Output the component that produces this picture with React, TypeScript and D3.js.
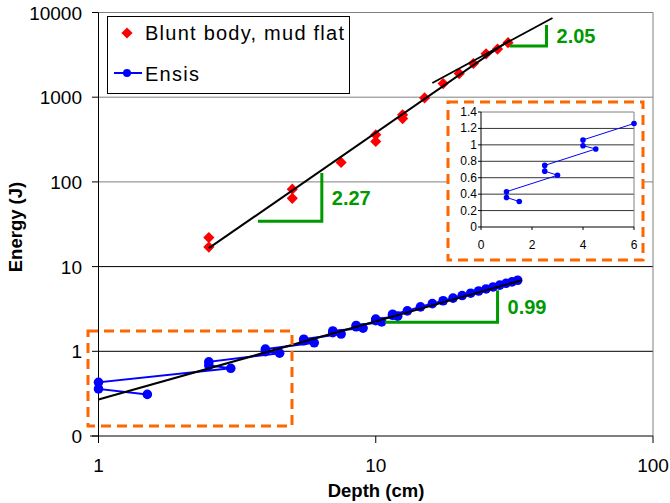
import * as d3 from "d3";

type Pt = [number, number];

// Blunt body, mud flat: depth (cm), energy (J)
const bluntBody: Pt[] = [
  [2.5, 22], [2.5, 17], [5, 82], [5, 64], [7.5, 170], [10, 360], [10, 300],
  [12.5, 620], [12.5, 560], [15, 980], [17.5, 1450], [20, 1900], [22.5, 2500],
  [25, 3250], [27.5, 3700], [30, 4400],
];

// Ensis: depth (cm), energy (J)
const ensis: Pt[] = [
  [1.5, 0.31], [1, 0.36], [1, 0.43],
  [3, 0.63], [2.5, 0.68], [2.5, 0.75],
  [4.5, 0.95], [4, 0.99], [4, 1.06],
  [6, 1.26], [5.5, 1.33], [5.5, 1.39],
  [7.5, 1.6], [7, 1.66], [7, 1.74],
  [9, 1.88], [8.5, 1.95], [8.5, 2.02],
  [10.5, 2.22], [10, 2.3], [10, 2.4],
  [12, 2.6], [11.5, 2.66], [11.5, 2.74],
  [13, 3.0], [14.5, 3.35], [16, 3.65], [17.5, 3.95], [19, 4.25], [20.5, 4.55],
  [22, 4.85], [23.5, 5.15], [25, 5.45], [26.5, 5.75], [28, 6.05], [29.5, 6.35],
  [31, 6.6], [32.5, 6.9],
];

// the inset only shows the first ten Ensis points on linear axes
const ensisInset: Pt[] = ensis.slice(0, 10);

// power-law fits
const bluntFit: Pt[] = [[2.5, 16.5], [30.4, 4740]];
const bluntFitUpper: Pt[] = [[16, 1470], [43.4, 8630]];
const ensisFit: Pt[] = [[1, 0.27], [33.6, 6.9]];

// slope triangles
const slopeMarks: { x0: number; x1: number; yBase: number; yTop: number; label: string }[] = [
  { x0: 3.76, x1: 6.39, yBase: 34.4, yTop: 127, label: "2.27" },
  { x0: 30.4, x1: 41.3, yBase: 4030, yTop: 7130, label: "2.05" },
  { x0: 10.8, x1: 27.5, yBase: 2.2, yTop: 5.26, label: "0.99" },
];

const yTicks = [0.1, 1, 10, 100, 1000, 10000];
const yTickLabels = ["0", "1", "10", "100", "1000", "10000"];
const xTicks = [1, 10, 100];
const insetYTicks = [0, 0.2, 0.4, 0.6, 0.8, 1, 1.2, 1.4];
const insetXTicks = [0, 2, 4, 6];

const FONT = "'Liberation Sans', Arial, sans-serif";
const GREEN = "#009900";
const ORANGE = "#FF6600";

export default function App() {
  const x = d3.scaleLog().domain([1, 100]).range([98.5, 653]);
  const y = d3.scaleLog().domain([0.1, 10000]).range([436, 12.5]);

  const xi = d3.scaleLinear().domain([0, 6]).range([481, 634]);
  const yi = d3.scaleLinear().domain([0, 1.4]).range([227, 112]);

  const line = d3.line<Pt>().x((d) => x(d[0])).y((d) => y(d[1]));
  const lineInset = d3.line<Pt>().x((d) => xi(d[0])).y((d) => yi(d[1]));
  const diamond = d3.symbol().type(d3.symbolDiamond2).size(80)()!;

  return (
    <div style={{ position: "absolute", left: 0, top: 0 }}>
      <svg width={670} height={503} style={{ display: "block", fontFamily: FONT }}>
        <rect width={670} height={503} fill="#fff" />

        {/* gridlines */}
        {yTicks.slice(1, 5).map((t) => (
          <line key={t} x1={98.5} x2={653} y1={y(t)} y2={y(t)} stroke={t >= 100 ? "#808080" : "#000"} strokeWidth={1} />
        ))}
        {/* plot frame */}
        <line x1={98.5} x2={653} y1={y(10000)} y2={y(10000)} stroke="#808080" />
        <line x1={653} x2={653} y1={y(10000)} y2={y(0.1)} stroke="#808080" />
        <line x1={90} x2={653} y1={y(0.1)} y2={y(0.1)} stroke="#555" strokeWidth={1.5} />
        <line x1={98.5} x2={98.5} y1={y(10000)} y2={y(0.1)} stroke="#000" />

        {/* y ticks */}
        {yTicks.map((t, i) => (
          <g key={t}>
            <line x1={92} x2={98.5} y1={y(t)} y2={y(t)} stroke="#000" />
            <text x={82} y={y(t) + 7} fontSize={19} textAnchor="end" fill="#000">
              {yTickLabels[i]}
            </text>
          </g>
        ))}
        {/* x ticks */}
        {xTicks.map((t) => (
          <g key={t}>
            <line x1={x(t)} x2={x(t)} y1={436} y2={443} stroke="#000" />
            <text x={x(t)} y={472} fontSize={19} textAnchor="middle" fill="#000">
              {t}
            </text>
          </g>
        ))}

        {/* axis titles */}
        <text x={376} y={497} fontSize={18.5} fontWeight="bold" textAnchor="middle">
          Depth (cm)
        </text>
        <text transform="translate(22,227) rotate(-90)" fontSize={18.5} fontWeight="bold" textAnchor="middle">
          Energy (J)
        </text>

        {/* blunt body points */}
        {bluntBody.map((d, i) => (
          <path key={i} d={diamond} transform={`translate(${x(d[0])},${y(d[1])})`} fill="#FF0000" />
        ))}

        {/* ensis */}
        <path d={line(ensis)!} fill="none" stroke="#0000FF" strokeWidth={2} />
        {ensis.map((d, i) => (
          <circle key={i} cx={x(d[0])} cy={y(d[1])} r={4.8} fill="#0000FF" />
        ))}

        {/* fits */}
        <path d={line(bluntFit)!} stroke="#000" strokeWidth={2} fill="none" />
        <path d={line(bluntFitUpper)!} stroke="#000" strokeWidth={1.8} fill="none" />
        <path d={line(ensisFit)!} stroke="#000" strokeWidth={2} fill="none" />

        {/* slope triangles */}
        {slopeMarks.map((m) => (
          <g key={m.label}>
            <polyline
              points={`${x(m.x0)},${y(m.yBase)} ${x(m.x1)},${y(m.yBase)} ${x(m.x1)},${y(m.yTop)}`}
              fill="none"
              stroke={GREEN}
              strokeWidth={3}
            />
            <text
              x={x(m.x1) + 10}
              y={(y(m.yBase) + y(m.yTop)) / 2 + 8}
              fontSize={20}
              fontWeight="bold"
              fill={GREEN}
            >
              {m.label}
            </text>
          </g>
        ))}

        {/* dashed box around the low-depth Ensis points */}
        <rect x={88} y={331} width={204} height={95} fill="none" stroke={ORANGE} strokeWidth={3} strokeDasharray="10 6" />

        {/* legend */}
        <rect x={107.5} y={16.5} width={242} height={77} fill="#fff" stroke="#000" strokeWidth={1} />
        <path d={diamond} transform="translate(127,33)" fill="#FF0000" />
        <text x={145} y={40} fontSize={20} fill="#000" textLength={199} lengthAdjust="spacing">
          Blunt body, mud flat
        </text>
        <line x1={114} x2={142} y1={73} y2={73} stroke="#0000FF" strokeWidth={2} />
        <circle cx={127} cy={73} r={4} fill="#0000FF" />
        <text x={145} y={81} fontSize={20} fill="#000" textLength={54} lengthAdjust="spacing">
          Ensis
        </text>

        {/* inset chart */}
        <rect x={448} y={102} width={195} height={158} fill="#fff" stroke={ORANGE} strokeWidth={3} strokeDasharray="10 6" />
        {insetYTicks.slice(1, 7).map((t) => (
          <line key={t} x1={xi(0)} x2={xi(6)} y1={yi(t)} y2={yi(t)} stroke="#000" strokeWidth={0.8} />
        ))}
        <line x1={xi(0)} x2={xi(6)} y1={yi(1.4)} y2={yi(1.4)} stroke="#808080" />
        <line x1={xi(6)} x2={xi(6)} y1={yi(1.4)} y2={yi(0)} stroke="#808080" />
        <line x1={xi(0)} x2={xi(6)} y1={yi(0)} y2={yi(0)} stroke="#000" />
        <line x1={xi(0)} x2={xi(0)} y1={yi(1.4)} y2={yi(0)} stroke="#000" />
        {insetYTicks.map((t) => (
          <g key={t}>
            <line x1={xi(0) - 3} x2={xi(0)} y1={yi(t)} y2={yi(t)} stroke="#000" />
            <text x={477} y={yi(t) + 4} fontSize={12} textAnchor="end" fill="#000">
              {t}
            </text>
          </g>
        ))}
        {insetXTicks.map((t) => (
          <g key={t}>
            <line x1={xi(t)} x2={xi(t)} y1={yi(0)} y2={yi(0) + 3} stroke="#000" />
            <text x={xi(t)} y={249} fontSize={12} textAnchor="middle" fill="#000">
              {t}
            </text>
          </g>
        ))}
        <path d={lineInset(ensisInset)!} fill="none" stroke="#0000FF" strokeWidth={1} />
        {ensisInset.map((d, i) => (
          <circle key={i} cx={xi(d[0])} cy={yi(d[1])} r={2.8} fill="#0000FF" />
        ))}
      </svg>
    </div>
  );
}
